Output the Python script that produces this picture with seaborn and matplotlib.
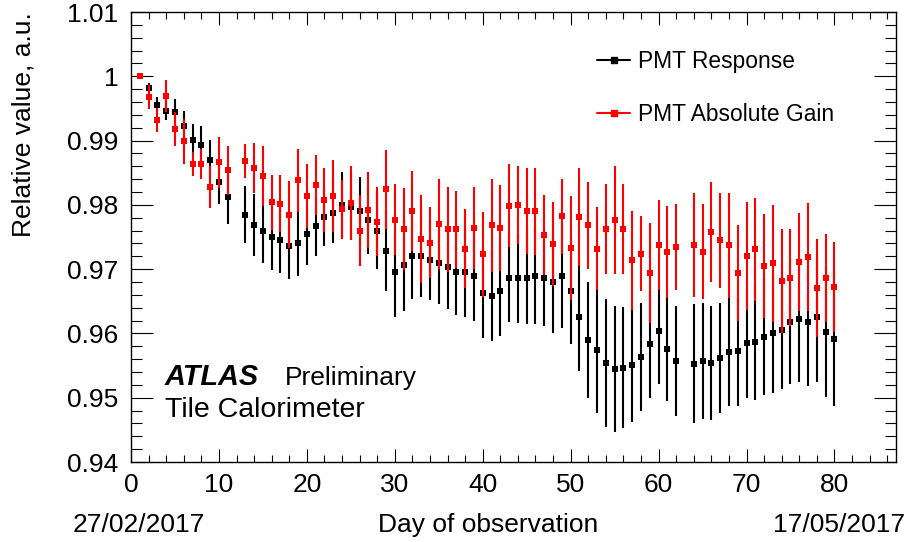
import matplotlib
matplotlib.use("Agg")
import matplotlib.pyplot as plt
from matplotlib.lines import Line2D
from matplotlib.ticker import MultipleLocator, FuncFormatter
import seaborn as sns

# jours d'observation (12 et 63 manquent)
days = [1, 2, 3, 4, 5, 6, 7, 8, 9, 10, 11,
        13, 14, 15, 16, 17, 18, 19, 20, 21, 22, 23, 24, 25, 26, 27, 28, 29, 30,
        31, 32, 33, 34, 35, 36, 37, 38, 39, 40, 41, 42, 43, 44, 45, 46, 47, 48,
        49, 50, 51, 52, 53, 54, 55, 56, 57, 58, 59, 60, 61, 62,
        64, 65, 66, 67, 68, 69, 70, 71, 72, 73, 74, 75, 76, 77, 78, 79, 80]

# PMT Response (noir)
resp = [1.0000, 0.9982, 0.9955, 0.9946, 0.9944, 0.9923, 0.9901, 0.9893, 0.9870, 0.9836, 0.9812,
        0.9785, 0.9769, 0.9760, 0.9750, 0.9745, 0.9736, 0.9740, 0.9755, 0.9767, 0.9781, 0.9787,
        0.9800, 0.9797, 0.9790, 0.9777, 0.9759, 0.9728, 0.9695, 0.9706, 0.9720, 0.9720, 0.9714,
        0.9709, 0.9703, 0.9696, 0.9695, 0.9689, 0.9663, 0.9659, 0.9666, 0.9687, 0.9687, 0.9686,
        0.9690, 0.9687, 0.9680, 0.9690, 0.9666, 0.9625, 0.9590, 0.9574, 0.9554, 0.9544, 0.9547,
        0.9551, 0.9564, 0.9583, 0.9604, 0.9576, 0.9557,
        0.9553, 0.9557, 0.9554, 0.9562, 0.9571, 0.9572, 0.9585, 0.9586, 0.9595, 0.9600, 0.9606,
        0.9618, 0.9622, 0.9618, 0.9625, 0.9602, 0.9591]
resp_err = [0.0001, 0.0008, 0.0013, 0.0014, 0.0020, 0.0023, 0.0025, 0.0029, 0.0031, 0.0035, 0.0042,
            0.0045, 0.0048, 0.0051, 0.0052, 0.0051, 0.0051, 0.0051, 0.0048, 0.0046, 0.0045, 0.0047,
            0.0051, 0.0052, 0.0054, 0.0053, 0.0059, 0.0062, 0.0069, 0.0071, 0.0067, 0.0064, 0.0062,
            0.0063, 0.0065, 0.0067, 0.0070, 0.0070, 0.0070, 0.0070, 0.0070, 0.0069, 0.0070, 0.0072,
            0.0075, 0.0076, 0.0079, 0.0082, 0.0082, 0.0084, 0.0090, 0.0097, 0.0100, 0.0098, 0.0094,
            0.0089, 0.0084, 0.0083, 0.0083, 0.0081, 0.0085,
            0.0093, 0.0090, 0.0088, 0.0086, 0.0084, 0.0085, 0.0086, 0.0089, 0.0090, 0.0093, 0.0093,
            0.0097, 0.0098, 0.0100, 0.0100, 0.0101, 0.0104]

# PMT Absolute Gain (rouge)
gain = [1.0000, 0.9968, 0.9932, 0.9969, 0.9918, 0.9899, 0.9864, 0.9864, 0.9828, 0.9866, 0.9854,
        0.9868, 0.9858, 0.9845, 0.9804, 0.9802, 0.9785, 0.9838, 0.9814, 0.9831, 0.9808, 0.9814,
        0.9793, 0.9803, 0.9760, 0.9792, 0.9774, 0.9824, 0.9777, 0.9763, 0.9790, 0.9747, 0.9741,
        0.9771, 0.9762, 0.9762, 0.9732, 0.9764, 0.9723, 0.9768, 0.9764, 0.9799, 0.9800, 0.9790,
        0.9790, 0.9753, 0.9739, 0.9782, 0.9733, 0.9781, 0.9768, 0.9732, 0.9763, 0.9777, 0.9763,
        0.9714, 0.9724, 0.9694, 0.9738, 0.9727, 0.9734,
        0.9737, 0.9727, 0.9758, 0.9745, 0.9737, 0.9694, 0.9721, 0.9731, 0.9705, 0.9709, 0.9681,
        0.9687, 0.9711, 0.9719, 0.9671, 0.9686, 0.9672]
gain_err = [0.0001, 0.0019, 0.0019, 0.0025, 0.0027, 0.0035, 0.0019, 0.0023, 0.0033, 0.0040, 0.0038,
            0.0026, 0.0039, 0.0047, 0.0043, 0.0044, 0.0052, 0.0049, 0.0050, 0.0046, 0.0050, 0.0056,
            0.0046, 0.0057, 0.0055, 0.0059, 0.0054, 0.0062, 0.0055, 0.0064, 0.0062, 0.0068, 0.0055,
            0.0070, 0.0066, 0.0060, 0.0061, 0.0064, 0.0066, 0.0072, 0.0067, 0.0065, 0.0061, 0.0067,
            0.0068, 0.0062, 0.0065, 0.0059, 0.0081, 0.0076, 0.0068, 0.0064, 0.0070, 0.0084, 0.0070,
            0.0077, 0.0058, 0.0078, 0.0070, 0.0072, 0.0067,
            0.0081, 0.0074, 0.0078, 0.0074, 0.0082, 0.0075, 0.0084, 0.0080, 0.0081, 0.0091, 0.0081,
            0.0075, 0.0076, 0.0084, 0.0076, 0.0068, 0.0070]

sns.set_theme(style="ticks")
plt.rcParams["font.family"] = ["Liberation Sans", "DejaVu Sans"]
plt.rcParams["text.color"] = "black"
plt.rcParams["axes.labelcolor"] = "black"

fig = plt.figure(figsize=(9.07, 5.42), dpi=100)
ax = fig.add_axes([131/907, 1-462/542, (896-131)/907, (462-12)/542])

ax.errorbar(days, resp, yerr=resp_err, fmt="none", ecolor="black", elinewidth=1.5, zorder=2)
sns.scatterplot(x=days, y=resp, marker="s", color="black", s=14, linewidth=0, ax=ax, zorder=3, legend=False)
ax.errorbar(days, gain, yerr=gain_err, fmt="none", ecolor="red", elinewidth=1.5, zorder=4)
sns.scatterplot(x=days, y=gain, marker="s", color="red", s=14, linewidth=0, ax=ax, zorder=5, legend=False)

ax.set_xlim(0, 87)
ax.set_ylim(0.94, 1.01)
ax.xaxis.set_major_locator(MultipleLocator(10))
ax.xaxis.set_minor_locator(MultipleLocator(2))
ax.yaxis.set_major_locator(MultipleLocator(0.01))
ax.yaxis.set_minor_locator(MultipleLocator(0.002))
ax.yaxis.set_major_formatter(FuncFormatter(lambda v, p: "%g" % round(v, 4)))

ax.tick_params(axis="both", which="both", direction="in", top=True, right=True,
               width=0.8, colors="black", labelsize=19)
ax.tick_params(axis="x", which="major", length=9.7, pad=8)
ax.tick_params(axis="x", which="minor", length=4.9)
ax.tick_params(axis="y", which="major", length=15.8, pad=9)
ax.tick_params(axis="y", which="minor", length=8)
for s in ax.spines.values():
    s.set_linewidth(1.0)
    s.set_color("black")

ax.set_ylabel("Relative value, a.u.", fontsize=19, loc="top")
ax.yaxis.set_label_coords((36-131)/765, 1.0)

# textes ATLAS
ax.text(0.044, 0.172, "ATLAS", transform=ax.transAxes, fontsize=20.8,
        fontweight="bold", fontstyle="italic", va="baseline")
ax.text(0.201, 0.172, "Preliminary", transform=ax.transAxes, fontsize=19, va="baseline")
ax.text(0.044, 0.101, "Tile Calorimeter", transform=ax.transAxes, fontsize=20.5, va="baseline")

fig.text(73/907, 1-532/542, "27/02/2017", fontsize=19, va="baseline", ha="left")
fig.text(378/907, 1-532/542, "Day of observation", fontsize=19, va="baseline", ha="left")
fig.text(905/907, 1-532/542, "17/05/2017", fontsize=19, va="baseline", ha="right")

# legende
h_resp = Line2D([], [], color="black", lw=1.5, marker="s", markersize=3.8)
h_gain = Line2D([], [], color="red", lw=1.5, marker="s", markersize=3.8)
fig.legend([h_resp, h_gain], ["PMT Response", "PMT Absolute Gain"],
           loc="upper left", bbox_to_anchor=(597/907, 1-50/542), frameon=False,
           fontsize=16.4, handlelength=1.45, handletextpad=0.35, labelspacing=1.3,
           borderpad=0, borderaxespad=0)

fig.savefig("out.png", dpi=100)
